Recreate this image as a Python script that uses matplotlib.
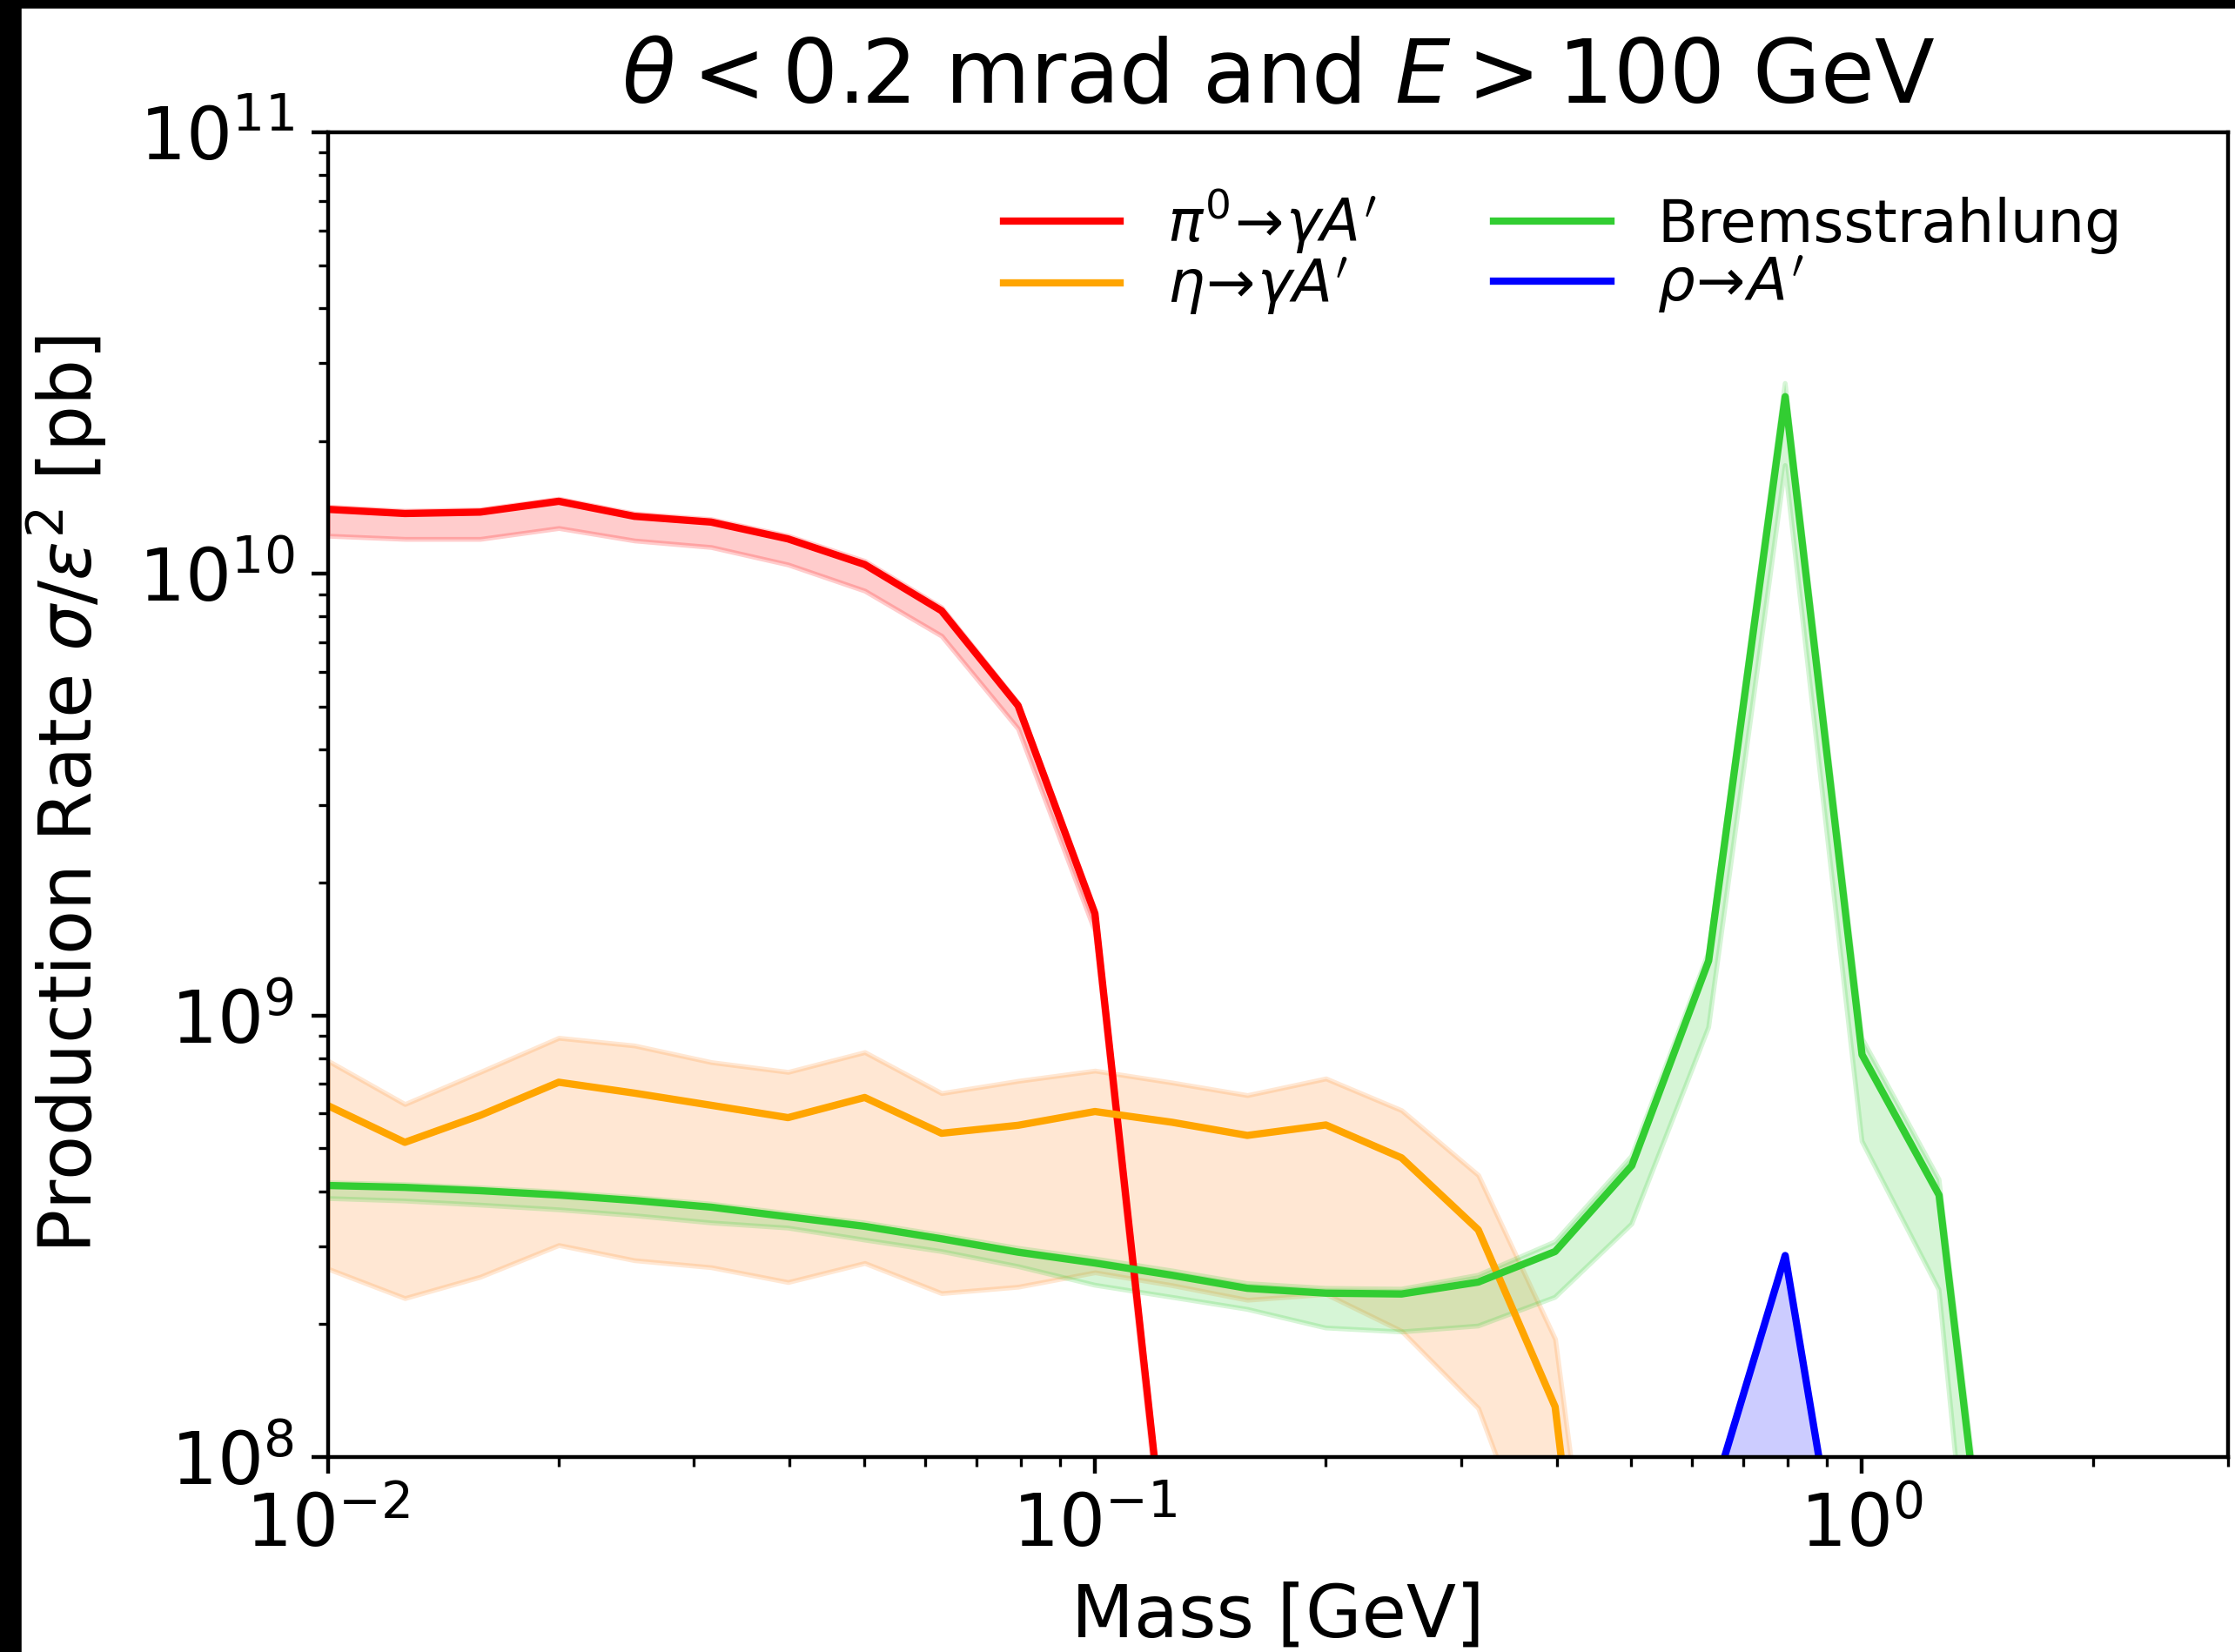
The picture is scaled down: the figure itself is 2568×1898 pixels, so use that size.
import numpy as np
import matplotlib
matplotlib.use("Agg")
import matplotlib.pyplot as plt
from matplotlib.patches import Rectangle

# ------------------------------- DATA -----------------------------------------
# mass grid [GeV] (0.1-decade steps)
mass = [0.01, 0.0126, 0.0158, 0.02, 0.0251, 0.0316, 0.0398, 0.0501, 0.0631,
        0.0794, 0.1, 0.126, 0.158, 0.2, 0.251, 0.316, 0.398, 0.501, 0.631,
        0.794, 1.0, 1.26, 1.585]

nan = np.nan

# pi0 -> gamma A'
pi0 = [1.40e10, 1.37e10, 1.38e10, 1.46e10, 1.35e10, 1.31e10, 1.20e10, 1.05e10,
       8.25e9, 5.03e9, 1.70e9, 4.3e7] + [nan] * 11
pi0_lo = [1.22e10, 1.20e10, 1.20e10, 1.27e10, 1.19e10, 1.15e10, 1.05e10, 9.16e9,
          7.24e9, 4.46e9, 1.55e9, 3.8e7] + [nan] * 11
pi0_hi = [1.42e10, 1.39e10, 1.40e10, 1.48e10, 1.37e10, 1.33e10, 1.22e10, 1.07e10,
          8.40e9, 5.10e9, 1.73e9, 4.4e7] + [nan] * 11

# eta -> gamma A'
eta = [6.25e8, 5.16e8, 5.94e8, 7.06e8, 6.67e8, 6.26e8, 5.87e8, 6.52e8, 5.41e8,
       5.64e8, 6.06e8, 5.73e8, 5.35e8, 5.65e8, 4.76e8, 3.27e8, 1.30e8, 4.7e6] + [nan] * 5
eta_lo = [2.67e8, 2.29e8, 2.56e8, 3.02e8, 2.79e8, 2.69e8, 2.49e8, 2.75e8, 2.35e8,
          2.43e8, 2.62e8, 2.45e8, 2.27e8, 2.34e8, 1.93e8, 1.29e8, 4.4e7, 1.0e6] + [nan] * 5
eta_hi = [7.90e8, 6.30e8, 7.45e8, 8.90e8, 8.55e8, 7.84e8, 7.45e8, 8.26e8, 6.67e8,
          7.11e8, 7.50e8, 7.05e8, 6.60e8, 7.20e8, 6.10e8, 4.35e8, 1.85e8, 8.7e6] + [nan] * 5

# Bremsstrahlung
brem = [4.12e8, 4.08e8, 4.01e8, 3.92e8, 3.81e8, 3.68e8, 3.50e8, 3.33e8, 3.12e8,
        2.91e8, 2.75e8, 2.58e8, 2.41e8, 2.35e8, 2.34e8, 2.49e8, 2.92e8, 4.57e8,
        1.33e9, 2.52e10, 8.15e8, 3.92e8, 1.35e7]
brem_lo = [3.85e8, 3.80e8, 3.72e8, 3.63e8, 3.52e8, 3.39e8, 3.30e8, 3.10e8, 2.92e8,
           2.70e8, 2.45e8, 2.30e8, 2.16e8, 1.96e8, 1.92e8, 1.98e8, 2.30e8, 3.37e8,
           9.40e8, 1.76e10, 5.19e8, 2.39e8, 4.3e6]
brem_hi = [4.18e8, 4.14e8, 4.07e8, 3.98e8, 3.87e8, 3.74e8, 3.56e8, 3.39e8, 3.18e8,
           2.97e8, 2.81e8, 2.64e8, 2.47e8, 2.41e8, 2.40e8, 2.58e8, 3.07e8, 4.80e8,
           1.39e9, 2.70e10, 8.87e8, 4.25e8, 1.5e7]

# rho -> A'
rho_mass = [0.631, 0.794, 1.0]
rho = [7.6e7, 2.86e8, 2.6e7]
rho_lo = [1e6, 1e6, 1e6]

# ------------------------------- PLOT -----------------------------------------
fig = plt.figure(figsize=(2568 / 400, 1898 / 400), dpi=400)
ax = fig.add_axes([376.7 / 2568, 1 - 1674 / 1898, (2560 - 376.7) / 2568, (1674 - 152) / 1898])

ax.fill_between(mass, pi0_lo, pi0_hi, color="red", alpha=0.2)
ax.fill_between(mass, eta_lo, eta_hi, color="C1", alpha=0.18)
ax.fill_between(mass, brem_lo, brem_hi, color="limegreen", alpha=0.2)
ax.fill_between(rho_mass, rho_lo, rho, color="blue", alpha=0.2)

ax.plot(mass, pi0, color="red", lw=1.5, label=r"$\pi^0\!\rightarrow\!\gamma A'$")
ax.plot(mass, eta, color="orange", lw=1.5, label=r"$\eta\!\rightarrow\!\gamma A'$")
ax.plot(mass, brem, color="limegreen", lw=1.5, label="Bremsstrahlung")
ax.plot(rho_mass, rho, color="blue", lw=1.5, label=r"$\rho\!\rightarrow\!A'$")

ax.set_xscale("log")
ax.set_yscale("log")
ax.set_xlim(1e-2, 3.0)
ax.set_ylim(1e8, 1e11)

ax.tick_params(which="major", labelsize=15)
ax.set_xlabel("Mass [GeV]", fontsize=15)
ax.set_ylabel(r"Production Rate $\sigma/\varepsilon^2$ [pb]", fontsize=15, labelpad=6)
ax.set_title(r"$\theta < 0.2$ mrad and $E > 100$ GeV", fontsize=18.1)

ax.legend(ncol=2, frameon=False, fontsize=12.1, loc="upper right",
          labelspacing=0.0, bbox_to_anchor=(0.972, 0.999))

# dark strips left and top of the original screenshot
fig.patches.append(Rectangle((0, 0), 22 / 2568, 1, transform=fig.transFigure,
                             color="black", zorder=10))
fig.patches.append(Rectangle((0, 1 - 7 / 1898), 1, 7 / 1898, transform=fig.transFigure,
                             color="black", zorder=10))

fig.savefig("out.png", dpi=400)
